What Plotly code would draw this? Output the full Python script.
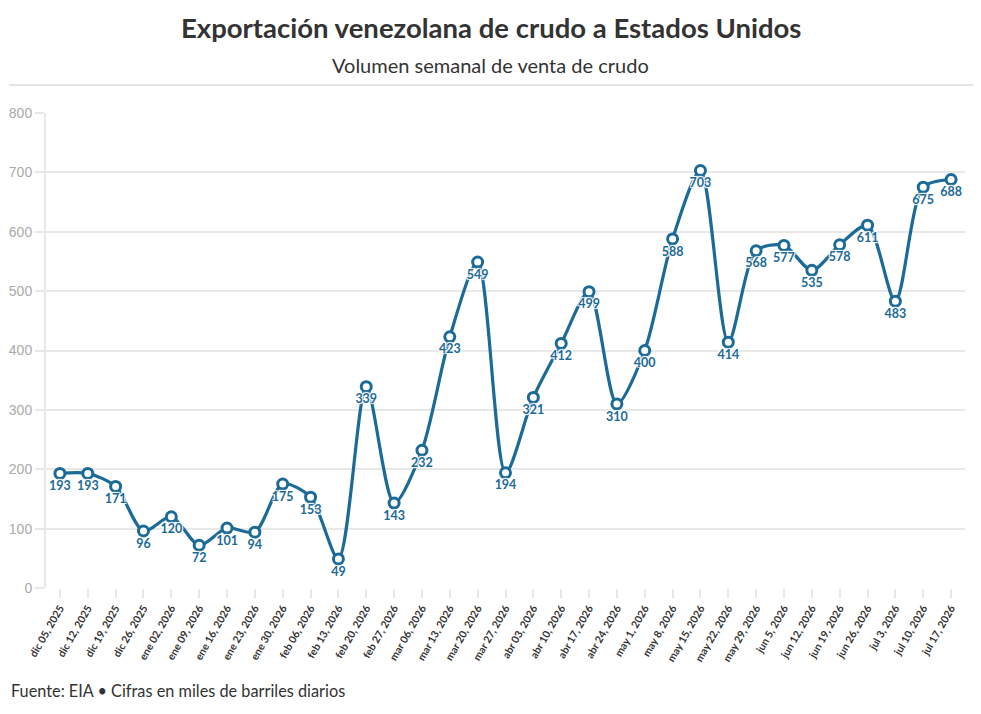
import plotly.graph_objects as go

categories = ["dic 05, 2025", "dic 12, 2025", "dic 19, 2025", "dic 26, 2025",
              "ene 02, 2026", "ene 09, 2026", "ene 16, 2026", "ene 23, 2026", "ene 30, 2026",
              "feb 06, 2026", "feb 13, 2026", "feb 20, 2026", "feb 27, 2026",
              "mar 06, 2026", "mar 13, 2026", "mar 20, 2026", "mar 27, 2026",
              "abr 03, 2026", "abr 10, 2026", "abr 17, 2026", "abr 24, 2026",
              "may 1, 2026", "may 8, 2026", "may 15, 2026", "may 22, 2026", "may 29, 2026",
              "jun 5, 2026", "jun 12, 2026", "jun 19, 2026", "jun 26, 2026",
              "jul 3, 2026", "jul 10, 2026", "jul 17, 2026"]
values = [193, 193, 171, 96, 120, 72, 101, 94, 175, 153, 49, 339, 143, 232, 423, 549, 194,
          321, 412, 499, 310, 400, 588, 703, 414, 568, 577, 535, 578, 611, 483, 675, 688]
y_ticks = [0, 100, 200, 300, 400, 500, 600, 700, 800]

BLUE = "#1b6a98"
FONT = "Lato"

fig = go.Figure()
fig.add_trace(go.Scatter(
    x=categories, y=values, mode="lines+markers+text",
    line=dict(color=BLUE, width=3.2, shape="spline", smoothing=0.8),
    marker=dict(size=10, color="white", line=dict(color=BLUE, width=3)),
    text=[str(v) for v in values], textposition="bottom center",
    textfont=dict(family=FONT, size=12.5, color=BLUE, weight="bold", shadow="auto"),
    cliponaxis=False, hoverinfo="x+y", showlegend=False,
))

fig.update_layout(
    width=981, height=714,
    margin=dict(l=38, r=24, t=105, b=134),
    paper_bgcolor="white", plot_bgcolor="white",
    font=dict(family=FONT, color="#333"),
    xaxis=dict(
        type="category", range=[-0.5, len(categories) - 0.5], automargin=False,
        showgrid=False, zeroline=False, showline=False,
        ticks="outside", ticklen=9, tickwidth=2, tickcolor="#e8e8e8",
        tickangle=-60, tickfont=dict(family=FONT, size=10.5, color="#333", weight="bold"),
    ),
    yaxis=dict(
        range=[0, 800], tickvals=y_ticks, showgrid=True, gridcolor="#e8e8e8", gridwidth=2,
        automargin=False,
        zeroline=False, showline=True, linecolor="#e8e8e8", linewidth=2,
        ticks="outside", ticklen=9, tickwidth=2, tickcolor="#e8e8e8",
        tickfont=dict(family="Liberation Sans", size=14, color="#aaaaaa"),
    ),
    shapes=[dict(type="line", xref="paper", yref="paper", x0=-0.040, x1=1.011,
                 y0=1.059, y1=1.059, line=dict(color="#dddddd", width=1.5))],
    annotations=[
        dict(text="<b>Exportación venezolana de crudo a Estados Unidos</b>", xref="paper", yref="paper",
             x=0.484, y=1.181, xanchor="center", yanchor="middle", showarrow=False,
             font=dict(family=FONT, size=27.5, color="#333")),
        dict(text="Volumen semanal de venta de crudo", xref="paper", yref="paper",
             x=0.484, y=1.101, xanchor="center", yanchor="middle", showarrow=False,
             font=dict(family=FONT, size=20, color="#333")),
        dict(text="Fuente: EIA • Cifras en miles de barriles diarios", xref="paper", yref="paper",
             x=-0.040, y=-0.215, xanchor="left", yanchor="middle", showarrow=False,
             font=dict(family=FONT, size=16.3, color="#333")),
    ],
)

fig.write_html("out.html")
